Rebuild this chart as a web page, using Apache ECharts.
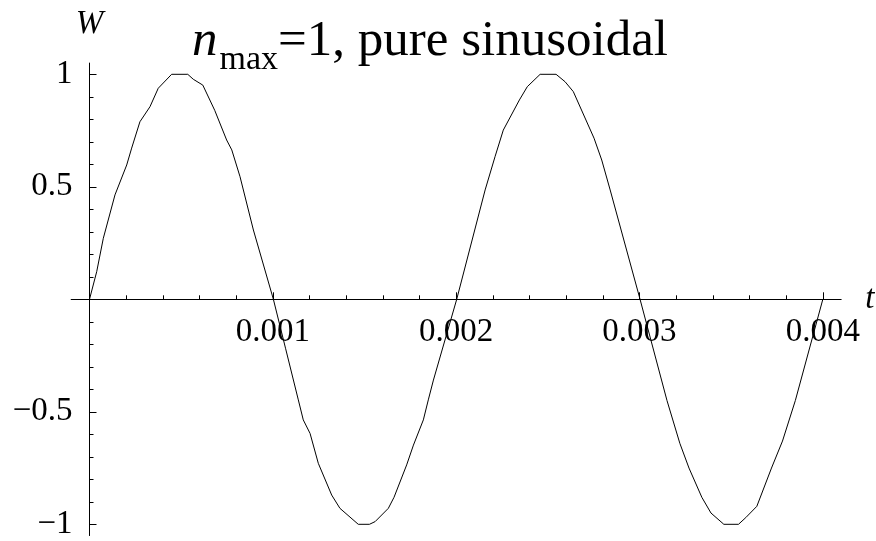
<!DOCTYPE html>
<html>
<head>
<meta charset="utf-8">
<script src="https://cdn.jsdelivr.net/npm/echarts@6/dist/echarts.min.js"></script>
<style>
  html, body { margin: 0; padding: 0; background: #ffffff; }
  #chart { width: 876px; height: 541px; }
</style>
</head>
<body>
<div id="chart"></div>
<script>
// Sampled waveform W(t): vertices of the plotted polyline
const T_VALUES = [
  0, 0.0000393, 0.0000753, 0.000139, 0.000203, 0.00023, 0.000275, 0.00033, 0.000375,
  0.000448, 0.000536, 0.000566, 0.000618, 0.000683, 0.000748, 0.000776, 0.000821, 0.000894,
  0.001003, 0.00107, 0.001139, 0.001166, 0.001203, 0.001248, 0.001321, 0.001366,
  0.001466, 0.001527, 0.001558, 0.00163, 0.001661, 0.00173, 0.001767, 0.001821, 0.001848,
  0.001876, 0.002003, 0.002158, 0.002212, 0.002257, 0.002345, 0.002388,
  0.002458, 0.002545, 0.002594, 0.002639, 0.002752, 0.002794, 0.00284,
  0.003003, 0.00315, 0.00322, 0.00327, 0.00334, 0.00339,
  0.00346, 0.00354, 0.00358, 0.00364, 0.00372, 0.00378, 0.00385, 0.004
];
const W_VALUES = [
  0, 0.123, 0.271, 0.464, 0.597, 0.672, 0.789, 0.856, 0.938,
  1.0, 1.0, 0.978, 0.952, 0.84, 0.708, 0.664, 0.545, 0.308,
  0, -0.22, -0.447, -0.536, -0.596, -0.729, -0.870, -0.929,
  -1.0, -1.0, -0.988, -0.929, -0.880, -0.736, -0.648, -0.536, -0.447,
  -0.359, 0, 0.486, 0.634, 0.752, 0.886, 0.945,
  1.0, 1.0, 0.967, 0.923, 0.716, 0.619, 0.486,
  0, -0.45, -0.64, -0.75, -0.88, -0.95,
  -1.0, -1.0, -0.97, -0.92, -0.75, -0.63, -0.45, 0
];

// Axis ranges and ticks
const X_RANGE = [-0.0001, 0.0041];
const Y_RANGE = [-1.05, 1.05];
const X_MAJOR = [0.001, 0.002, 0.003, 0.004];
const X_TICK_LABELS = ['0.001', '0.002', '0.003', '0.004'];
const X_MINOR = [0.0002, 0.0004, 0.0006, 0.0008, 0.0012, 0.0014, 0.0016, 0.0018,
                 0.0022, 0.0024, 0.0026, 0.0028, 0.0032, 0.0034, 0.0036, 0.0038];
const Y_MAJOR = [-1, -0.5, 0.5, 1];
const Y_TICK_LABELS = ['\u22121', '\u22120.5', '0.5', '1'];
const Y_MINOR = [-0.9, -0.8, -0.7, -0.6, -0.4, -0.3, -0.2, -0.1,
                 0.1, 0.2, 0.3, 0.4, 0.6, 0.7, 0.8, 0.9];

const SERIF = "'Liberation Serif', 'Times New Roman', 'DejaVu Serif', serif";
const AXIS_COLOR = '#000';

function labelFor(values, labels) {
  return function (v) {
    for (let i = 0; i < values.length; i++) {
      if (Math.abs(values[i] - v) < 1e-9) return labels[i];
    }
    return '';
  };
}

// Plot frame: t = 0 sits at 89.5px, 0.001 spans 183.3px; W = 0 sits at 299.3px, 1 unit spans 225px
const PX_PER_T = 183333;
const PX_PER_W = 225;
const ORIGIN_X = 89.5;
const ORIGIN_Y = 299.3;
const W_PX = 876, H_PX = 541;

const plotRight = W_PX - (ORIGIN_X + X_RANGE[1] * PX_PER_T);
const plotTop = ORIGIN_Y - Y_RANGE[1] * PX_PER_W;
const plotBottom = H_PX - (ORIGIN_Y - Y_RANGE[0] * PX_PER_W);
const xAxisLeft = ORIGIN_X + X_RANGE[0] * PX_PER_T;

const chart = echarts.init(document.getElementById('chart'), null, { renderer: 'canvas' });

const lineData = T_VALUES.map((t, i) => [t, W_VALUES[i]]);

const noAxis = { show: false };

chart.setOption({
  animation: false,
  backgroundColor: '#ffffff',
  title: {
    text: '{n|n}{s|max}{r|=1, pure sinusoidal}',
    left: 192,
    top: 26,
    padding: 0,
    textStyle: {
      rich: {
        n: { fontFamily: SERIF, fontStyle: 'italic', fontWeight: 'normal', fontSize: 51, lineHeight: 51, color: '#000', verticalAlign: 'bottom', padding: [0, 2, 10, 0] },
        s: { fontFamily: SERIF, fontWeight: 'normal', fontSize: 34, lineHeight: 34, color: '#000', verticalAlign: 'bottom' },
        r: { fontFamily: SERIF, fontWeight: 'normal', fontSize: 51, lineHeight: 51, color: '#000', verticalAlign: 'bottom', padding: [0, 0, 10, 0] }
      }
    }
  },
  grid: [
    // grid 0: data area, its left edge is the W axis at t = 0
    {
      left: ORIGIN_X, right: plotRight, top: plotTop, bottom: plotBottom,
      containLabel: false, outerBoundsMode: 'none'
    },
    // grid 1: upper half, its bottom edge is the t axis at W = 0
    {
      left: xAxisLeft, right: plotRight, top: plotTop, bottom: H_PX - ORIGIN_Y,
      containLabel: false, outerBoundsMode: 'none'
    }
  ],
  xAxis: [
    {
      gridIndex: 0, type: 'value', min: 0, max: X_RANGE[1],
      axisLine: noAxis, axisTick: noAxis, axisLabel: noAxis, splitLine: noAxis
    },
    {
      gridIndex: 1, type: 'value', min: X_RANGE[0], max: X_RANGE[1],
      position: 'bottom',
      name: 't',
      nameLocation: 'end',
      nameGap: 24,
      nameTextStyle: { fontFamily: SERIF, fontStyle: 'italic', fontSize: 33, color: '#000', verticalAlign: 'middle' },
      axisLine: { show: true, onZero: false, lineStyle: { color: AXIS_COLOR, width: 1 } },
      axisTick: { show: true, inside: true, length: 7, customValues: X_MAJOR, lineStyle: { color: AXIS_COLOR, width: 1 } },
      axisLabel: {
        show: true, customValues: X_MAJOR, margin: 17,
        fontFamily: SERIF, fontSize: 33, color: '#000',
        formatter: labelFor(X_MAJOR, X_TICK_LABELS)
      },
      splitLine: { show: false }
    },
    {
      gridIndex: 1, type: 'value', min: X_RANGE[0], max: X_RANGE[1],
      position: 'bottom',
      axisLine: { show: false, onZero: false },
      axisTick: { show: true, inside: true, length: 4, customValues: X_MINOR, lineStyle: { color: AXIS_COLOR, width: 1 } },
      axisLabel: { show: false },
      splitLine: { show: false }
    }
  ],
  yAxis: [
    {
      gridIndex: 0, type: 'value', min: Y_RANGE[0], max: Y_RANGE[1],
      position: 'left',
      name: 'W',
      nameLocation: 'end',
      nameGap: 22,
      nameTextStyle: { fontFamily: SERIF, fontStyle: 'italic', fontSize: 33, color: '#000', align: 'center' },
      axisLine: { show: true, onZero: false, lineStyle: { color: AXIS_COLOR, width: 1 } },
      axisTick: { show: true, inside: true, length: 7, customValues: Y_MAJOR, lineStyle: { color: AXIS_COLOR, width: 1 } },
      axisLabel: {
        show: true, customValues: Y_MAJOR, margin: 17,
        fontFamily: SERIF, fontSize: 33, color: '#000',
        formatter: labelFor(Y_MAJOR, Y_TICK_LABELS)
      },
      splitLine: { show: false }
    },
    {
      gridIndex: 0, type: 'value', min: Y_RANGE[0], max: Y_RANGE[1],
      position: 'left',
      axisLine: { show: false, onZero: false },
      axisTick: { show: true, inside: true, length: 4, customValues: Y_MINOR, lineStyle: { color: AXIS_COLOR, width: 1 } },
      axisLabel: { show: false },
      splitLine: { show: false }
    },
    {
      gridIndex: 1, type: 'value', min: 0, max: Y_RANGE[1],
      axisLine: noAxis, axisTick: noAxis, axisLabel: noAxis, splitLine: noAxis
    }
  ],
  series: [
    {
      type: 'line',
      xAxisIndex: 0,
      yAxisIndex: 0,
      data: lineData,
      showSymbol: false,
      smooth: false,
      clip: false,
      lineStyle: { color: '#000', width: 1 },
      z: 3
    }
  ]
});
</script>
</body>
</html>
